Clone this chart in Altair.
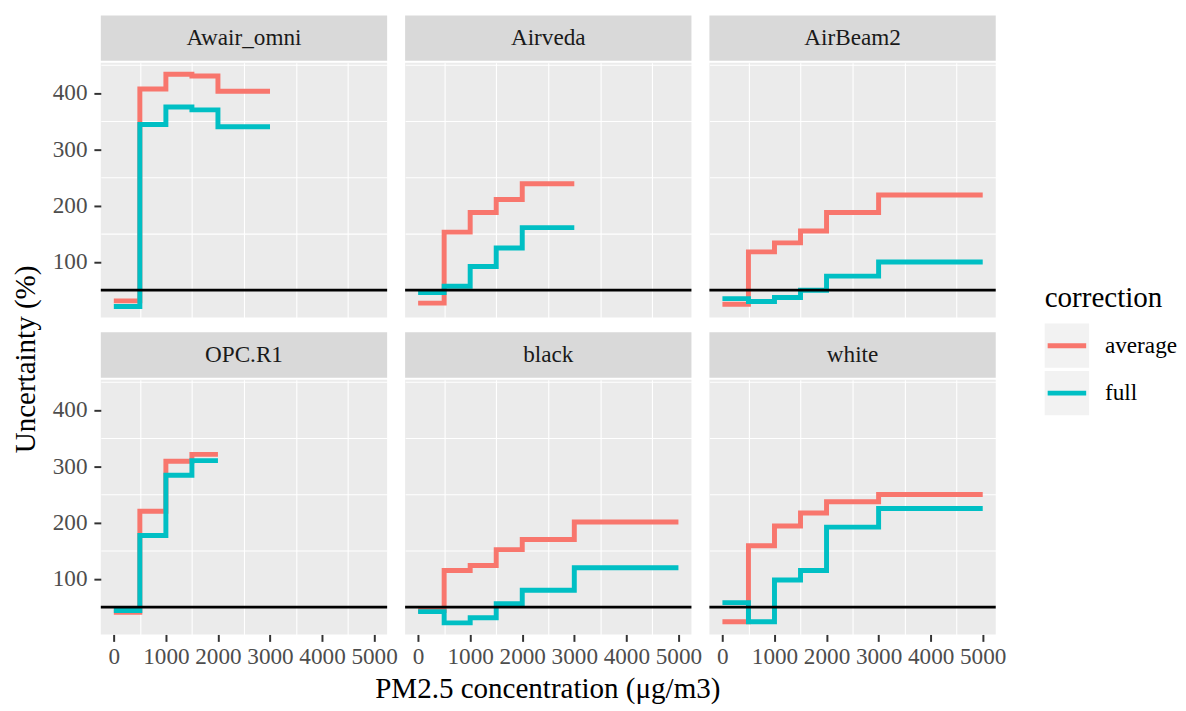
import altair as alt
import pandas as pd

FONT = "Liberation Serif"

panels = ["Awair_omni", "Airveda", "AirBeam2", "OPC.R1", "black", "white"]
corrections = ["average", "full"]
legend_title = "correction"
colors = ["#F8766D", "#00BFC4"]
bin_edges = [0, 500, 1000, 1500, 2000, 3000, 5000]
threshold = 50

awair_avg = [31, 407, 433, 430, 403]
awair_full = [21, 344, 375, 370, 340]
airveda_avg = [27, 153, 188, 211, 239]
airveda_full = [46, 57, 92, 125, 161]
airbeam_avg = [25, 118, 134, 155, 188, 219]
airbeam_full = [35, 30, 37, 50, 75, 100]
opc_avg = [41, 220, 309, 321]
opc_full = [44, 177, 284, 310]
black_avg = [44, 115, 124, 152, 170, 201]
black_full = [42, 22, 31, 56, 80, 120]
white_avg = [24, 159, 194, 217, 237, 250]
white_full = [58, 24, 98, 115, 192, 225]

series = {
    "Awair_omni": (awair_avg, awair_full),
    "Airveda": (airveda_avg, airveda_full),
    "AirBeam2": (airbeam_avg, airbeam_full),
    "OPC.R1": (opc_avg, opc_full),
    "black": (black_avg, black_full),
    "white": (white_avg, white_full),
}

x_ticks = [0, 1000, 2000, 3000, 4000, 5000]
x_minor = [500, 1500, 2500, 3500, 4500]
y_ticks = [100, 200, 300, 400]
y_minor = [50, 150, 250, 350, 450]

rows = []
for p in panels:
    for corr, vals in zip(corrections, series[p]):
        for i, v in enumerate(vals):
            rows.append({"panel": p, "correction": corr, "conc": bin_edges[i], "unc": v})
        rows.append({"panel": p, "correction": corr, "conc": bin_edges[len(vals)], "unc": vals[-1]})
df = pd.DataFrame(rows)

xscale = alt.Scale(domain=[-250, 5250], nice=False, zero=False)
yscale = alt.Scale(domain=[1.5, 453.5], nice=False, zero=False)
cscale = alt.Scale(domain=corrections, range=colors)

W, H, SH = 290, 258, 46
SMALL, BIG = 23.5, 29.4


def major_axis(values, show, orient, pad):
    return alt.Axis(
        values=values, orient=orient, title=None, format="d", domain=False,
        labels=show, ticks=show,
        labelFont=FONT, labelFontSize=SMALL, labelColor="#4D4D4D",
        labelOverlap=False, labelFlush=False, labelPadding=pad,
        tickColor="#333333", tickSize=7, tickWidth=2,
        gridColor="white", gridWidth=2.2,
    )


def minor_axis(values, orient):
    return alt.Axis(
        values=values, orient=orient, title=None, domain=False,
        labels=False, ticks=False, gridColor="white", gridWidth=1.1,
    )


def panel(name, r, c):
    sub = df[df.panel == name]
    minor = alt.Chart(sub).mark_line(strokeOpacity=0).encode(
        x=alt.X("conc:Q", scale=xscale, axis=minor_axis(x_minor, "bottom")),
        y=alt.Y("unc:Q", scale=yscale, axis=minor_axis(y_minor, "left")),
    )
    lines = alt.Chart(sub).mark_line(interpolate="step-after", strokeWidth=5).encode(
        x=alt.X("conc:Q", scale=xscale, axis=major_axis(x_ticks, r == 1, "bottom", 3)),
        y=alt.Y("unc:Q", scale=yscale, axis=major_axis(y_ticks, c == 0, "left", 7)),
        color=alt.Color("correction:N", scale=cscale, legend=None),
    )
    rule = alt.Chart(pd.DataFrame({"unc": [threshold]})).mark_rule(
        color="black", strokeWidth=2.8
    ).encode(y=alt.Y("unc:Q", scale=yscale, axis=None))
    plot = alt.layer(minor, lines, rule).resolve_axis(
        x="independent", y="independent"
    ).properties(
        width=W, height=H, view=alt.ViewBackground(fill="#EBEBEB", strokeWidth=0)
    )
    strip = alt.Chart(pd.DataFrame({"panel": [name]})).mark_text(
        font=FONT, fontSize=SMALL, color="#1A1A1A", baseline="middle"
    ).encode(text="panel:N").properties(
        width=W, height=SH, view=alt.ViewBackground(fill="#D9D9D9", strokeWidth=0)
    )
    return alt.vconcat(strip, plot, spacing=2)


grid = alt.concat(
    *[panel(panels[k], k // 3, k % 3) for k in range(6)],
    columns=3, align="each", spacing={"row": 15, "column": 5.2},
    title=alt.TitleParams(
        "PM2.5 concentration (μg/m3)", orient="bottom", anchor="middle",
        font=FONT, fontSize=BIG, fontWeight="normal", color="black",
        offset=8, dx=19,
    ),
)

# hand-built legend in the ggplot style (grey key boxes)
leg_domain = [legend_title] + corrections
leg_y = alt.Scale(domain=leg_domain, range=[264, 405], paddingInner=0.066, paddingOuter=0)
leg_df = pd.DataFrame({"correction": corrections})
boxes = alt.Chart(leg_df).mark_rect(color="#F2F2F2").encode(
    y=alt.Y("correction:N", scale=leg_y, axis=None),
    x=alt.value(0), x2=alt.value(45),
)
keys = alt.Chart(leg_df).mark_rule(strokeWidth=5).encode(
    y=alt.Y("correction:N", scale=leg_y, axis=None, bandPosition=0.5),
    x=alt.value(3), x2=alt.value(42),
    color=alt.Color("correction:N", scale=cscale, legend=None),
)
labels = alt.Chart(leg_df).mark_text(
    font=FONT, fontSize=SMALL, color="black", align="left", baseline="middle"
).encode(
    y=alt.Y("correction:N", scale=leg_y, axis=None, bandPosition=0.5),
    x=alt.value(61),
    text="correction:N",
)
ttl = alt.Chart(pd.DataFrame({"correction": [legend_title]})).mark_text(
    font=FONT, fontSize=BIG, color="black", align="left", baseline="middle"
).encode(
    y=alt.Y("correction:N", scale=leg_y, axis=None, bandPosition=0.5),
    x=alt.value(0),
    text="correction:N",
)
legend = alt.layer(boxes, keys, labels, ttl).properties(
    width=134, height=405,
    view=alt.ViewBackground(fill="white", strokeWidth=0),
)

chart = alt.hconcat(
    grid, legend, spacing=39,
    title=alt.TitleParams(
        "Uncertainty (%)", orient="left", anchor="middle", font=FONT,
        fontSize=BIG, fontWeight="normal", color="black", offset=-4, dy=-15,
    ),
).properties(
    padding={"left": 3, "top": 3, "right": 0, "bottom": 0}
).configure(background="white")

chart.save("out.html", embed_options={"renderer": "svg", "actions": False})
